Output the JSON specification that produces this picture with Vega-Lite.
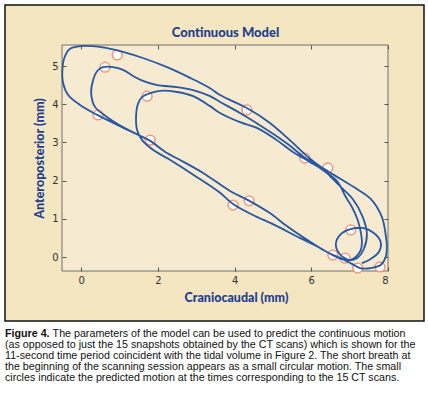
{
  "$schema": "https://vega.github.io/schema/vega-lite/v6.json",
  "width": 326,
  "height": 226,
  "autosize": {"type": "none"},
  "padding": {"left": 62, "top": 45, "right": 40, "bottom": 125},
  "background": "white",
  "config": {"view": {"stroke": null, "fill": null}},
  "datasets": {
    "path": [
      {"o":1,"x":7.32,"y":-0.16},{"o":2,"x":7.55,"y":-0.05},{"o":3,"x":7.76,"y":0.13},{"o":4,"x":7.81,"y":0.39},
      {"o":5,"x":7.63,"y":0.63},{"o":6,"x":7.34,"y":0.76},{"o":7,"x":7.03,"y":0.73},{"o":8,"x":6.77,"y":0.60},
      {"o":9,"x":6.64,"y":0.34},{"o":10,"x":6.74,"y":0.08},{"o":11,"x":7.01,"y":-0.08},{"o":12,"x":7.16,"y":0.00},
      {"o":13,"x":7.29,"y":0.18},{"o":14,"x":7.32,"y":0.39},{"o":15,"x":7.29,"y":0.65},{"o":16,"x":7.21,"y":0.97},
      {"o":17,"x":7.06,"y":1.31},{"o":18,"x":6.90,"y":1.57},{"o":19,"x":6.67,"y":1.99},{"o":20,"x":6.30,"y":2.28},
      {"o":21,"x":5.96,"y":2.49},{"o":22,"x":5.52,"y":2.75},{"o":23,"x":5.10,"y":3.06},{"o":24,"x":4.58,"y":3.38},
      {"o":25,"x":4.14,"y":3.53},{"o":26,"x":3.62,"y":3.77},{"o":27,"x":3.36,"y":3.95},{"o":28,"x":2.92,"y":4.21},
      {"o":29,"x":2.50,"y":4.32},{"o":30,"x":2.06,"y":4.35},{"o":31,"x":1.80,"y":4.29},{"o":32,"x":1.59,"y":4.19},
      {"o":33,"x":1.48,"y":4.01},{"o":34,"x":1.43,"y":3.66},{"o":35,"x":1.46,"y":3.32},{"o":36,"x":1.59,"y":3.06},
      {"o":37,"x":1.88,"y":2.80},{"o":38,"x":2.27,"y":2.57},{"o":39,"x":3.02,"y":2.09},{"o":40,"x":3.62,"y":1.68},
      {"o":41,"x":3.96,"y":1.39},{"o":42,"x":4.48,"y":1.10},{"o":43,"x":5.00,"y":0.86},{"o":44,"x":5.70,"y":0.50},
      {"o":45,"x":6.22,"y":0.24},{"o":46,"x":6.56,"y":0.05},{"o":47,"x":6.88,"y":-0.08},{"o":48,"x":7.19,"y":-0.03},
      {"o":49,"x":7.37,"y":0.21},{"o":50,"x":7.45,"y":0.60},{"o":51,"x":7.34,"y":1.05},{"o":52,"x":7.08,"y":1.52},
      {"o":53,"x":6.74,"y":1.86},{"o":54,"x":6.41,"y":2.20},{"o":55,"x":6.15,"y":2.41},{"o":56,"x":5.78,"y":2.64},
      {"o":57,"x":5.36,"y":2.98},{"o":58,"x":4.74,"y":3.40},{"o":59,"x":4.14,"y":3.77},{"o":60,"x":3.62,"y":4.06},
      {"o":61,"x":3.36,"y":4.21},{"o":62,"x":2.92,"y":4.37},{"o":63,"x":2.50,"y":4.45},{"o":64,"x":1.98,"y":4.50},
      {"o":65,"x":1.61,"y":4.61},{"o":66,"x":1.35,"y":4.74},{"o":67,"x":1.09,"y":4.90},{"o":68,"x":0.83,"y":4.97},
      {"o":69,"x":0.57,"y":4.97},{"o":70,"x":0.42,"y":4.87},{"o":71,"x":0.31,"y":4.63},{"o":72,"x":0.26,"y":4.29},
      {"o":73,"x":0.36,"y":3.93},{"o":74,"x":0.68,"y":3.66},{"o":75,"x":1.09,"y":3.40},{"o":76,"x":1.54,"y":3.17},
      {"o":77,"x":1.80,"y":3.04},{"o":78,"x":2.24,"y":2.72},{"o":79,"x":2.58,"y":2.54},{"o":80,"x":3.18,"y":2.20},
      {"o":81,"x":3.88,"y":1.73},{"o":82,"x":4.35,"y":1.49},{"o":83,"x":4.92,"y":1.15},{"o":84,"x":5.36,"y":0.81},
      {"o":85,"x":5.89,"y":0.45},{"o":86,"x":6.41,"y":0.13},{"o":87,"x":6.77,"y":-0.03},{"o":88,"x":7.06,"y":-0.18},
      {"o":89,"x":7.27,"y":-0.29},{"o":90,"x":7.55,"y":-0.29},{"o":91,"x":7.81,"y":-0.21},{"o":92,"x":7.94,"y":0.00},
      {"o":93,"x":7.97,"y":0.29},{"o":94,"x":7.94,"y":0.58},{"o":95,"x":7.84,"y":1.05},{"o":96,"x":7.55,"y":1.52},
      {"o":97,"x":7.11,"y":1.83},{"o":98,"x":6.59,"y":2.15},{"o":99,"x":6.22,"y":2.38},{"o":100,"x":5.89,"y":2.64},
      {"o":101,"x":5.44,"y":3.06},{"o":102,"x":4.92,"y":3.51},{"o":103,"x":4.32,"y":3.90},{"o":104,"x":3.62,"y":4.24},
      {"o":105,"x":3.36,"y":4.42},{"o":106,"x":2.84,"y":4.69},{"o":107,"x":2.24,"y":4.97},{"o":108,"x":1.61,"y":5.21},
      {"o":109,"x":1.09,"y":5.37},{"o":110,"x":0.68,"y":5.47},{"o":111,"x":0.31,"y":5.52},{"o":112,"x":-0.03,"y":5.52},
      {"o":113,"x":-0.29,"y":5.45},{"o":114,"x":-0.44,"y":5.21},{"o":115,"x":-0.49,"y":4.90},{"o":116,"x":-0.47,"y":4.55},
      {"o":117,"x":-0.34,"y":4.24},{"o":118,"x":-0.03,"y":3.98},{"o":119,"x":0.42,"y":3.72},{"o":120,"x":0.94,"y":3.46},
      {"o":121,"x":1.38,"y":3.25}
    ],
    "scans": [
      {"scan":1,"x":0.94,"y":5.29},{"scan":2,"x":0.62,"y":4.97},{"scan":3,"x":0.44,"y":3.72},
      {"scan":4,"x":1.72,"y":4.21},{"scan":5,"x":1.80,"y":3.06},{"scan":6,"x":4.32,"y":3.85},
      {"scan":7,"x":5.83,"y":2.59},{"scan":8,"x":6.43,"y":2.33},{"scan":9,"x":3.96,"y":1.36},
      {"scan":10,"x":4.38,"y":1.47},{"scan":11,"x":7.03,"y":0.71},{"scan":12,"x":6.56,"y":0.05},
      {"scan":13,"x":6.88,"y":-0.03},{"scan":14,"x":7.21,"y":-0.29},{"scan":15,"x":7.79,"y":-0.26}
    ]
  },
  "layer": [
    {
      "data": {"values": [{}]},
      "mark": {"type": "rect", "x": -57, "x2": 362, "y": -40, "y2": 276, "fill": "#F5E6C2", "stroke": "#111111", "strokeWidth": 1.5},
      "encoding": {}
    },
    {
      "data": {"values": [{}]},
      "mark": {"type": "rect", "x": 0, "x2": "width", "y": 0, "y2": "height", "fill": "#F6EBD0", "stroke": "#707070", "strokeWidth": 1},
      "encoding": {}
    },
    {
      "data": {"values": [{}]},
      "mark": {"type": "text", "x": -57, "y": 291.5, "align": "left", "baseline": "alphabetic", "font": "Liberation Sans", "fontSize": 10.7, "fontWeight": "bold", "color": "#111111", "text": "Figure 4."},
      "encoding": {}
    },
    {
      "data": {"values": [{}]},
      "mark": {"type": "text", "x": -9.4, "y": 291.5, "align": "left", "baseline": "alphabetic", "font": "Liberation Sans", "fontSize": 10.7, "color": "#111111", "text": "The parameters of the model can be used to predict the continuous motion"},
      "encoding": {}
    },
    {
      "data": {"values": [{}]},
      "mark": {"type": "text", "x": -57, "y": 302.7, "align": "left", "baseline": "alphabetic", "font": "Liberation Sans", "fontSize": 10.7, "lineHeight": 11.2, "color": "#111111",
        "text": ["(as opposed to just the 15 snapshots obtained by the CT scans) which is shown for the", "11-second time period coincident with the tidal volume in Figure 2. The short breath at", "the beginning of the scanning session appears as a small circular motion. The small", "circles indicate the predicted motion at the times corresponding to the 15 CT scans."]},
      "encoding": {}
    },
    {
      "data": {"name": "scans"},
      "mark": {"type": "point", "shape": "circle", "filled": true, "fill": "white", "stroke": "#EE9A80", "strokeWidth": 1.6, "size": 95, "opacity": 1},
      "encoding": {
        "x": {"field": "x", "type": "quantitative", "scale": {"domain": [-0.5, 8], "nice": false, "zero": false},
          "axis": {"orient": "bottom", "values": [0, 2, 4, 6, 8], "format": "d", "tickSize": -4, "labelPadding": 8, "domain": false, "grid": false, "zindex": 1,
            "tickColor": "#555555", "labelFont": "DejaVu Sans", "labelFontSize": 10, "labelColor": "#333333",
            "title": "Craniocaudal (mm)", "titleFont": "Lato", "titleFontWeight": 900, "titleFontSize": 12.5, "titleColor": "#1F3F8F", "titleX": 174, "titleY": 30, "titleBaseline": "alphabetic"}},
        "y": {"field": "y", "type": "quantitative", "scale": {"domain": [-0.366, 5.55], "nice": false, "zero": false},
          "axis": {"orient": "left", "values": [0, 1, 2, 3, 4, 5], "format": "d", "tickSize": -4, "labelPadding": 8, "domain": false, "grid": false, "zindex": 1,
            "tickColor": "#555555", "labelFont": "DejaVu Sans", "labelFontSize": 10, "labelColor": "#333333",
            "title": "Anteroposterior (mm)", "titleFont": "Lato", "titleFontWeight": 900, "titleFontSize": 12.5, "titleColor": "#1F3F8F", "titlePadding": 5}}
      }
    },
    {
      "data": {"name": "path"},
      "mark": {"type": "line", "interpolate": "catmull-rom", "color": "#2857A4", "strokeWidth": 1.8},
      "encoding": {
        "x": {"field": "x", "type": "quantitative",
          "axis": {"orient": "top", "values": [0, 2, 4, 6, 8], "tickSize": -4, "labels": false, "domain": false, "grid": false, "zindex": 1, "tickColor": "#555555",
            "title": "Continuous Model", "titleFont": "Lato", "titleFontWeight": 900, "titleFontSize": 13, "titleColor": "#1F3F8F", "titleY": -8.5, "titleBaseline": "alphabetic"}},
        "y": {"field": "y", "type": "quantitative",
          "axis": {"orient": "right", "values": [0, 1, 2, 3, 4, 5], "tickSize": -4, "labels": false, "domain": false, "grid": false, "zindex": 1, "tickColor": "#555555", "title": null}},
        "order": {"field": "o", "type": "quantitative"}
      }
    }
  ],
  "resolve": {"axis": {"x": "independent", "y": "independent"}}
}
